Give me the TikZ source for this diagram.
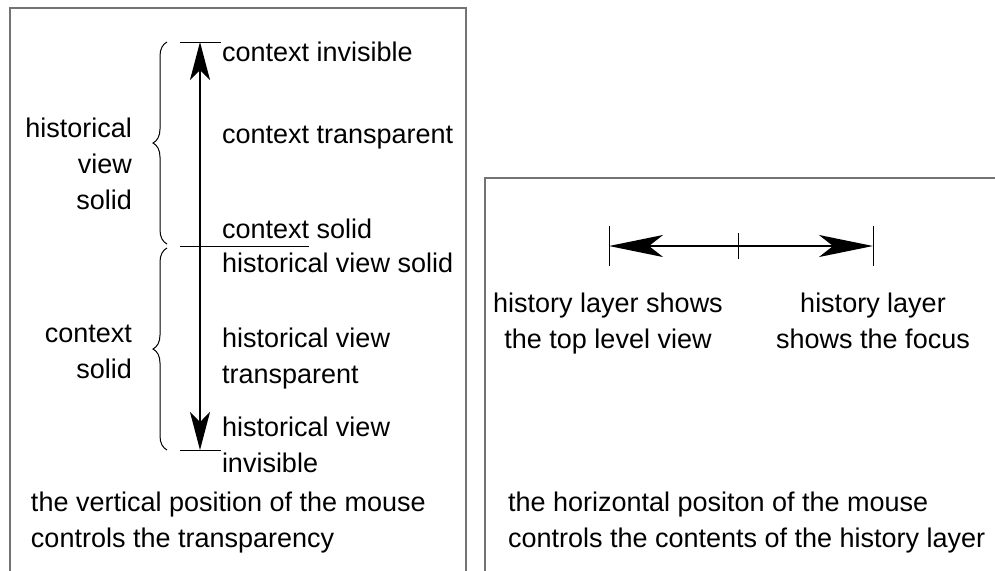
\documentclass[tikz,border=0pt]{standalone}
\usepackage{fontspec}
\setmainfont{Liberation Sans}
\usetikzlibrary{arrows.meta,positioning,decorations.pathreplacing,calc}
\definecolor{framegray}{RGB}{115,115,115}

\begin{document}
\begin{tikzpicture}[x=0.5pt, y=-0.5pt,
    every node/.style={font=\fontsize{13.5}{18}\selectfont, inner sep=0pt, outer sep=0pt},
    panel/.style={draw=framegray, line width=1.25pt},
    lbl/.style={anchor=base west, align=left},
    rlbl/.style={anchor=base east, align=right},
    clbl/.style={anchor=base, align=center},
    tick/.style={line width=0.5pt},
    curly/.style={decorate, decoration={brace, amplitude=7pt}, line width=0.5pt},
    vtip/.style={line width=1pt, {Stealth[length=19pt, width=10pt, inset=5pt]}-{Stealth[length=19pt, width=10pt, inset=5pt]}},
    htip/.style={line width=1pt, {Stealth[length=27pt, width=11pt, inset=7pt]}-{Stealth[length=27pt, width=11pt, inset=7pt]}}]
    \useasboundingbox (0,0) rectangle (995,570);

    % panels
    \draw[panel] (10,575) -- (10,8) -- (466,8) -- (466,575);
    \draw[panel] (485,575) -- (485,178) -- (1000,178);

    % vertical scale
    \coordinate (top) at (200,42);
    \coordinate (mid) at (200,246);
    \coordinate (bot) at (200,450);
    \draw[tick] ($(top)+(-20,0)$) -- ($(top)+(21,0)$);
    \draw[tick] ($(mid)+(-20,0)$) -- ($(mid)+(109,0)$);
    \draw[tick] ($(bot)+(-20,0)$) -- ($(bot)+(21,0)$);
    \draw[vtip] (top) -- (bot);
    \draw[curly] (167,244) -- (167,42);
    \draw[curly] (167,450) -- (167,248);

    % labels (multi-line nodes sit on their last baseline)
    \node[lbl] (ci) at (222,61) {context invisible};
    \node[lbl] (ct) at (222,143) {context transparent};
    \node[lbl] (cs) at (222,238) {context solid};
    \node[lbl] (hs) at (222,272) {historical view solid};
    \node[lbl] (ht) at (222,383) {historical view\\transparent};
    \node[lbl] (hi) at (222,472) {historical view\\invisible};
    \node[rlbl] (hvs) at (132,209) {historical\\view\\solid};
    \node[rlbl] (cso) at (132,378) {context\\solid};
    \node[lbl] (vnote) at (31,547) {the vertical position of the mouse\\controls the transparency};

    % horizontal scale
    \coordinate (hl) at (609,246);
    \coordinate (hm) at (738,246);
    \coordinate (hr) at (873,246);
    \draw[tick] ($(hl)+(0,-20)$) -- ($(hl)+(0,20)$);
    \draw[tick] ($(hm)+(0,-13)$) -- ($(hm)+(0,13)$);
    \draw[tick] ($(hr)+(0,-20)$) -- ($(hr)+(0,20)$);
    \draw[htip] (hl) -- (hr);

    \node[clbl] (top lvl) at (608,348) {history layer shows\\the top level view};
    \node[clbl] (focus) at (873,348) {history layer\\shows the focus};
    \node[lbl] (hnote) at (508,547) {the horizontal positon of the mouse\\controls the contents of the history layer};
  \end{tikzpicture}
\end{document}
